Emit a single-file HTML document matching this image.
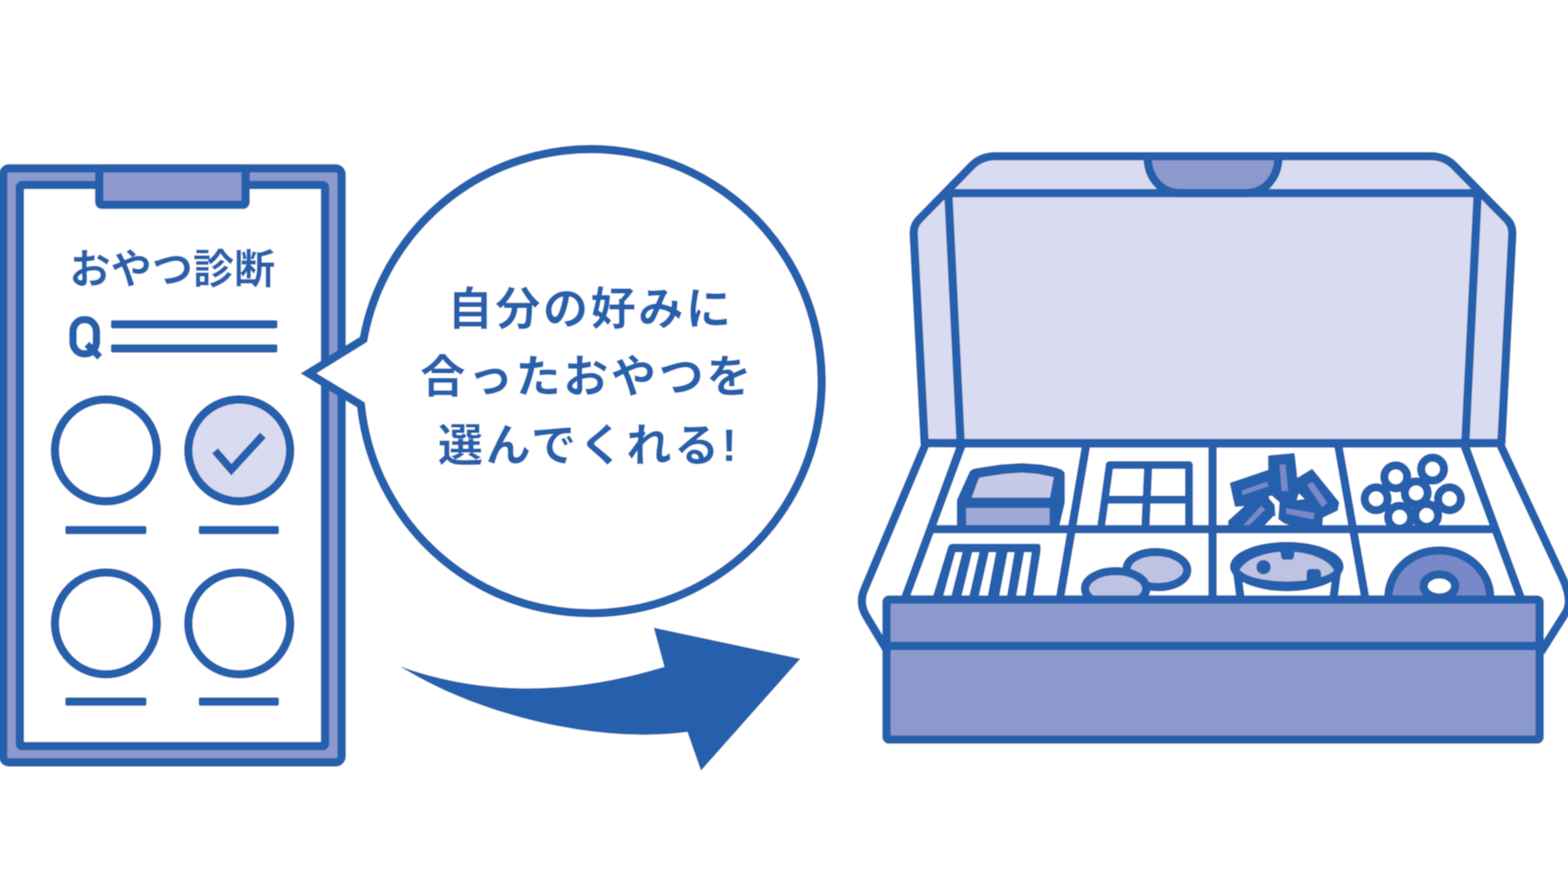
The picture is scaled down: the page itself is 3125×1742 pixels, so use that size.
<!DOCTYPE html>
<html lang="ja">
<head>
<meta charset="utf-8">
<title>おやつ診断 - 自分の好みに合ったおやつを選んでくれる!</title>
<style>
html,body{margin:0;padding:0;background:#fff;font-family:"Liberation Sans",sans-serif;}
body{width:3125px;height:1742px;overflow:hidden;}
svg{display:block;}
</style>
</head>
<body>
<svg width="3125" height="1742" viewBox="0 0 3125 1742" role="img" aria-label="おやつ診断: 自分の好みに合ったおやつを選んでくれる!">
<defs><filter id="soft" filterUnits="userSpaceOnUse" x="-60" y="-60" width="3245" height="1862"><feGaussianBlur stdDeviation="1.3"/></filter></defs>
<g filter="url(#soft)">
<rect x="-60" y="-60" width="3245" height="1862" fill="#fff"/>
<g id="clipboard" aria-label="おやつ診断 Q">
<title>おやつ診断</title>
<rect x="6.2" y="335.5" width="674.7" height="1184.1" rx="12" fill="#8b99cd" stroke="#2660ac" stroke-width="16.6"/>
<rect x="39.5" y="368.7" width="608.3" height="1118.3" rx="5" fill="#fff" stroke="#2660ac" stroke-width="16.6"/>
<path d="M197.8,335.5 V402.3 Q197.8,408.3 203.8,408.3 H483.4 Q489.4,408.3 489.4,402.3 V335.5 Z" fill="#8b99cd" stroke="#2660ac" stroke-width="16.6" stroke-linejoin="round"/>
<text x="343.5" y="565" font-size="82" font-weight="bold" fill="#2660ac" text-anchor="middle" font-family="'Liberation Sans','Noto Sans CJK JP',sans-serif">おやつ診断</text>
<rect x="145.4" y="637.2" width="46.8" height="68" rx="22" ry="24" fill="none" stroke="#2660ac" stroke-width="14.8"/>
<path d="M173,686 L199,712" fill="none" stroke="#2660ac" stroke-width="14"/>
<rect x="221" y="638.2" width="332" height="16.6" rx="4" fill="#2660ac"/>
<rect x="221" y="686.2" width="332" height="16.6" rx="4" fill="#2660ac"/>
<circle cx="211" cy="897.6" r="101.5" fill="#fff" stroke="#2660ac" stroke-width="16.6"/>
<circle cx="476.8" cy="897.6" r="101.5" fill="#d9dcf0" stroke="#2660ac" stroke-width="16.6"/>
<circle cx="211" cy="1242.5" r="101.5" fill="#fff" stroke="#2660ac" stroke-width="16.6"/>
<circle cx="476.8" cy="1242.5" r="101.5" fill="#fff" stroke="#2660ac" stroke-width="16.6"/>
<polyline points="428.5,898.5 461.1,936 524,867.5" fill="none" stroke="#2660ac" stroke-width="15.5"/>
<rect x="130" y="1048.2" width="162" height="16.6" rx="4" fill="#2660ac"/>
<rect x="396" y="1048.2" width="160" height="16.6" rx="4" fill="#2660ac"/>
<rect x="130" y="1390.1" width="162" height="16.6" rx="4" fill="#2660ac"/>
<rect x="396" y="1390.1" width="160" height="16.6" rx="4" fill="#2660ac"/>
</g>
<g id="box" stroke-linejoin="round">
<path d="M1845.6,883 L1722.7,1174.4 Q1711,1202 1726.4,1227.7 L1768,1297 L1803,1195 L1917,884 Z" fill="#fff" stroke="#2660ac" stroke-width="16.6"/>
<path d="M2988.5,883 L3113.3,1150 Q3135.6,1197.7 3120,1222 L3072,1298 L3032,1195 L2918,884 Z" fill="#fff" stroke="#2660ac" stroke-width="16.6"/>
<path d="M1917.8,884 L1802.8,1195 L3032.2,1195 L2917.2,884 Z" fill="#fff" stroke="#2660ac" stroke-width="16.6"/>
<clipPath id="trayclip"><rect x="1780" y="880" width="1280" height="315"/></clipPath>
<clipPath id="toprow"><rect x="1780" y="880" width="1280" height="174.7"/></clipPath>
<g clip-path="url(#toprow)">
<path d="M1908.9,1049.2 L1908.9,997.1 L1934.3,940.8 L1939.1,936.9 L1947.4,934.9 L1994.7,927.8 L2036.2,924.9 L2075.2,927.8 L2103.6,933.7 L2115.5,937.9 L2120.2,943.2 L2120.2,1001.8 L2109.0,1049.2 Z" fill="#2660ac" stroke="#2660ac" stroke-width="4" stroke-linejoin="round"/>
<path d="M1936.7,991.8 L1950.9,953.3 L1955.6,951.5 L2000.6,944.4 L2036.2,942.0 L2068.1,944.4 L2100.1,950.9 L2092.4,991.8 Z" fill="#c7cae6"/>
<path d="M1925.5,1012.5 L2091.8,1012.5 L2091.8,1049.2 L1925.5,1049.2 Z" fill="#9fa9d6"/>
<path d="M2211.5,926.7 H2369.6 V1060 H2193 Z" fill="#fff" stroke="#2660ac" stroke-width="15.5"/>
<path d="M2288.5,926.7 L2282.4,1060 M2202,996 H2369.6" fill="none" stroke="#2660ac" stroke-width="16.2"/>
<path d="M2453.6,964.0 L2530.0,938.0 L2529.7,910.1 L2577.9,905.6 L2583.6,956.3 L2614.6,937.4 L2666.7,1001.9 L2663.8,1016.1 L2634.2,1030.3 L2633.0,1049.2 L2450.1,1049.2 L2450.1,1039.2 L2486.8,1005.8 L2463.1,1007.8 Z" fill="#2660ac" stroke="#2660ac" stroke-width="5" stroke-linejoin="round"/>
<path d="M2528.8,988.9 L2535.3,988.3 L2550.1,1001.3 L2547.2,1038.0 L2542.4,1038.0 L2540.6,1006.6 L2529.4,993.6 Z M2520.5,1046.9 L2538.9,1027.9 L2558.4,1042.7 L2570.2,1046.9 Z M2588.6,983.5 L2599.8,994.8 L2584.4,996.6 Z" fill="#fff"/>
<path d="M2475.5,977.6 L2525.2,959.9 L2528.2,969.3 L2475.5,987.1 Z M2550.1,925.5 L2562.0,925.5 L2567.3,978.8 L2554.3,978.8 Z M2604.6,965.8 L2616.4,961.0 L2645.4,1002.5 L2634.8,1010.8 Z M2563.1,1013.1 L2620.0,1022.6 L2617.6,1035.6 L2563.1,1023.8 Z M2475.5,1049.2 L2513.4,1008.4 L2521.7,1015.5 L2487.4,1049.2 Z" fill="#7888c8"/>
<circle cx="2781.7" cy="950.4" r="22.8" fill="#fff" stroke="#2660ac" stroke-width="16.4"/>
<circle cx="2855.1" cy="935.0" r="22.8" fill="#fff" stroke="#2660ac" stroke-width="16.4"/>
<circle cx="2742.6" cy="994.2" r="22.8" fill="#fff" stroke="#2660ac" stroke-width="16.4"/>
<circle cx="2822.5" cy="982.4" r="22.8" fill="#fff" stroke="#2660ac" stroke-width="16.4"/>
<circle cx="2888.8" cy="994.2" r="22.8" fill="#fff" stroke="#2660ac" stroke-width="16.4"/>
<circle cx="2789.4" cy="1030.9" r="22.8" fill="#fff" stroke="#2660ac" stroke-width="16.4"/>
<circle cx="2843.3" cy="1027.3" r="22.8" fill="#fff" stroke="#2660ac" stroke-width="16.4"/>
</g>
<g clip-path="url(#trayclip)">
<path d="M1858.9,1190.2 L1889.7,1089.6 L1892.6,1085.5 L1896.8,1083.7 L2070.2,1083.7 L2073.8,1086.6 L2073.8,1099.7 L2059.0,1190.2 Z" fill="#2660ac"/>
<path d="M1903.9,1100.8 L1918.1,1100.8 L1895.3,1190.2 L1879.2,1190.2 Z M1937.6,1100.8 L1951.8,1100.8 L1931.3,1190.2 L1915.9,1190.2 Z M1970.8,1100.8 L1985.0,1100.8 L1968.0,1190.2 L1950.3,1190.2 Z M2008.1,1100.8 L2021.7,1100.8 L2006.6,1190.2 L1991.1,1190.2 Z M2041.2,1100.8 L2056.0,1100.8 L2042.8,1190.2 L2024.9,1190.2 Z" fill="#fff"/>
<ellipse cx="2305.8" cy="1135.2" rx="60.4" ry="34.9" transform="rotate(2 2305.8 1135.2)" fill="#bfc3e3" stroke="#2660ac" stroke-width="16.6"/>
<ellipse cx="2223.5" cy="1173.1" rx="61.1" ry="34.9" fill="#bfc3e3" stroke="#2660ac" stroke-width="16.6"/>
<path d="M2465.5,1140 L2473.4,1200 H2656.6 L2664.5,1140 Z" fill="#fff" stroke="#2660ac" stroke-width="16.6"/>
<ellipse cx="2564.6" cy="1129.2" rx="113.3" ry="49.2" fill="#2660ac"/>
<path d="M2470.8,1135.8 A97.1,49.5 0 0 1 2658.5,1136.9 A97.1,30.3 0 0 1 2470.8,1135.8 Z" fill="#bfc3e3"/>
<circle cx="2518.2" cy="1130.4" r="14.2" fill="#2660ac"/>
<path d="M2604.0,1160.6 V1141.7 Q2604.6,1134.0 2611.7,1134.0 H2625.3 Q2632.4,1134.6 2633.0,1142.9 V1160.6 Z" fill="#2660ac"/>
<path d="M2550.7,1095.5 L2553.7,1110.9 Q2555.5,1115.6 2559.6,1115.6 H2573.8 Q2578.0,1115.6 2579.4,1107.3 L2580.1,1095.5 Z" fill="#2660ac"/>
<ellipse cx="2868.5" cy="1191" rx="101.6" ry="94" fill="#7888c8" stroke="#2660ac" stroke-width="16.6"/>
<ellipse cx="2868.7" cy="1168" rx="31.4" ry="23" fill="#fff" stroke="#2660ac" stroke-width="16.6"/>
</g>
<path d="M2165.2,884 L2112,1195 M2416.6,884 V1195 M2666.5,884 L2721.5,1195 M1854.6,1054.7 H2980.4" fill="none" stroke="#2660ac" stroke-width="16.6"/>
<path d="M1842.7,883 L1821,468 Q1819.9,449.1 1832,437 L1936,331 Q1954.8,311.3 1985,311.3 H2850.0 Q2880.2,311.3 2899.0,331 L3003.0,437 Q3015.1,449.1 3014.0,468 L2992.3,883 Z" fill="#d9dcf0" stroke="#2660ac" stroke-width="16.6"/>
<path d="M1882.6,385 H2952.4 M1890,385 L1914.6,883 M2945.0,385 L2920.4,883" fill="none" stroke="#2660ac" stroke-width="16.6"/>
<path d="M2287,311.3 C2287,352 2312,385 2352,385 H2483.0 C2523.0,385 2548.0,352 2548.0,311.3 Z" fill="#8b99cd" stroke="#2660ac" stroke-width="16.6"/>
<rect x="1766.8" y="1195" width="1301.6" height="279" rx="5" fill="#8b99cd" stroke="#2660ac" stroke-width="16.6"/>
<path d="M1766.8,1287.5 H3068.4" fill="none" stroke="#2660ac" stroke-width="16.6"/>
</g>
<path id="arrow" d="M797,1328 Q1039.5,1415.5 1324,1329 L1303,1251 L1595,1313 L1397,1536 L1370,1459 C1200,1482 960,1430 797,1328 Z" fill="#2660ac"/>
<g id="bubble" aria-label="自分の好みに合ったおやつを選んでくれる!">
<title>自分の好みに 合ったおやつを 選んでくれる!</title>
<path d="M724.4,676.5 L615,744.2 L719.3,806.9 A460.3,462.5 0 1 0 724.4,676.5 Z" fill="#fff" stroke="#2660ac" stroke-width="16.6" stroke-linejoin="miter"/>
<text x="1177" y="647" font-size="90" font-weight="bold" letter-spacing="5" fill="#2660ac" text-anchor="middle" font-family="'Liberation Sans','Noto Sans CJK JP',sans-serif">自分の好みに</text>
<text x="1170" y="782" font-size="90" font-weight="bold" letter-spacing="5" fill="#2660ac" text-anchor="middle" font-family="'Liberation Sans','Noto Sans CJK JP',sans-serif">合ったおやつを</text>
<text x="1173" y="919" font-size="90" font-weight="bold" letter-spacing="5" fill="#2660ac" text-anchor="middle" font-family="'Liberation Sans','Noto Sans CJK JP',sans-serif">選んでくれる!</text>
</g>
</g>
</svg>
</body>
</html>
